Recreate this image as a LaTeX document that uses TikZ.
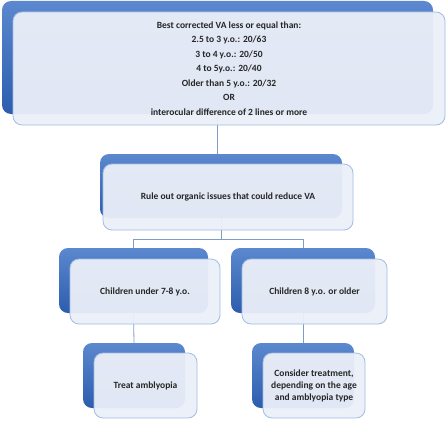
\documentclass[tikz,border=0pt]{standalone}
\usepackage{fontspec}
\setmainfont{Carlito}
\usepackage{tikz}
\usetikzlibrary{positioning}

\definecolor{backtop}{HTML}{5B88CE}
\definecolor{backbot}{HTML}{2C5DAE}
\definecolor{frontfill}{HTML}{EBEFF8}
\definecolor{frontline}{HTML}{A3BCE2}
\definecolor{linkline}{HTML}{7F9CC8}

\tikzset{
  backbox/.style={rectangle,rounded corners=9pt,top color=backtop,bottom color=backbot,draw=none,inner sep=0pt},
  frontbox/.style={rectangle,rounded corners=9pt,fill=frontfill,fill opacity=0.95,text opacity=1,draw=frontline,line width=0.8pt,inner sep=2pt,align=center,font=\bfseries\fontsize{9.5}{14.5}\selectfont,text=black!85},
  link/.style={draw=linkline,line width=0.8pt}
}

\begin{document}
\begin{tikzpicture}[x=1pt,y=-1pt]
    \useasboundingbox (0,0) rectangle (446,420);

    % back panels
    \node[backbox,minimum width=431pt,minimum height=113pt] (critB) at (217.5,57.5) {};
    \node[backbox,minimum width=242pt,minimum height=64pt] (ruleB) at (221,186) {};
    \node[backbox,minimum width=149pt,minimum height=65pt] (youngB) at (133.5,280.5) {};
    \node[backbox,minimum width=144pt,minimum height=65pt] (olderB) at (303,280.5) {};
    \node[backbox,minimum width=102pt,minimum height=65pt] (treatB) at (134,375.5) {};
    \node[backbox,minimum width=102pt,minimum height=65pt] (considerB) at (303,375.5) {};

    % links
    \coordinate (split) at (221,239);
    \draw[link] (critB.south) -- (critB.south |- ruleB.north);
    \draw[link] (ruleB.south) -- (split);
    \draw[link] (split) -| (youngB.north);
    \draw[link] (split) -| (olderB.north);
    \draw[link] (youngB.south) -- (treatB.north);
    \draw[link] (olderB.south) -- (considerB.north);

    % front panels
    \node[frontbox,minimum width=432pt,minimum height=113pt] (crit) at (229,68.5)
      {Best corrected VA less or equal than:\\2.5 to 3 y.o.: 20/63\\3 to 4 y.o.: 20/50\\4 to 5y.o.: 20/40\\Older than 5 y.o.: 20/32\\OR\\interocular difference of 2 lines or more};
    \node[frontbox,minimum width=250pt,minimum height=66pt] (rule) at (228,197) {Rule out organic issues that could reduce VA};
    \node[frontbox,minimum width=150pt,minimum height=65pt] (young) at (145,291.5) {Children under 7-8 y.o.};
    \node[frontbox,minimum width=145pt,minimum height=65pt] (older) at (314.5,291.5) {Children 8 y.o. or older};
    \node[frontbox,minimum width=103pt,minimum height=65pt] (treat) at (145.5,385.5) {Treat amblyopia};
    \node[frontbox,minimum width=102pt,minimum height=65pt,font=\bfseries\fontsize{9.5}{12}\selectfont] (consider) at (314,385.5) {Consider treatment,\\depending on the age\\and amblyopia type};
\end{tikzpicture}
\end{document}
